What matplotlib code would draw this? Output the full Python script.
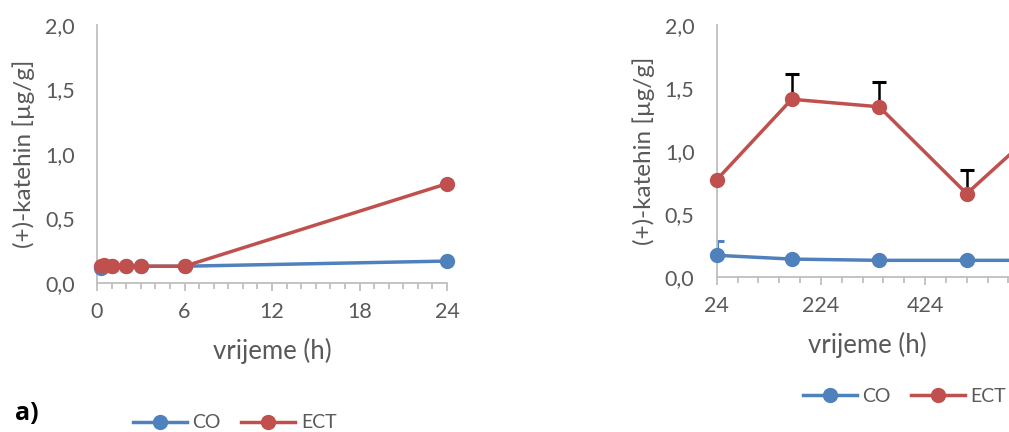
import matplotlib
matplotlib.use("Agg")
import matplotlib.pyplot as plt
import numpy as np
from matplotlib.ticker import FixedLocator, FuncFormatter, MultipleLocator

# data
left_time = [0.25, 0.5, 1, 2, 3, 6, 24]
left_co = [0.12, 0.13, 0.13, 0.13, 0.13, 0.13, 0.17]
left_ect = [0.13, 0.14, 0.13, 0.13, 0.13, 0.13, 0.77]

right_time = [24, 168, 336, 504, 672]
right_co = [0.17, 0.14, 0.13, 0.13, 0.13]
right_ect = [0.77, 1.41, 1.35, 0.66, 1.29]
right_co_err = [0.11, 0.02, 0.02, 0.02, 0.02]
right_ect_err = [0.0, 0.20, 0.20, 0.19, 0.20]

series_names = ["CO", "ECT"]
y_label = "(+)-katehin [µg/g]"
x_label = "vrijeme (h)"

BLUE = "#4F81BD"
RED = "#C0504D"
GREY = "#BFBFBF"
TEXT = "#595959"

plt.rcParams["font.family"] = ["Lato", "DejaVu Sans"]

W, H = 1009, 432
fig = plt.figure(figsize=(W / 100, H / 100), dpi=100)


def px_axes(x0, x1, y_top, y_bottom):
    return fig.add_axes([x0 / W, 1 - y_bottom / H, (x1 - x0) / W, (y_bottom - y_top) / H])


def style(ax):
    for s in ("top", "right"):
        ax.spines[s].set_visible(False)
    for s in ("left", "bottom"):
        ax.spines[s].set_color(GREY)
        ax.spines[s].set_linewidth(1.3)
    ax.set_ylim(0, 2.0)
    ax.yaxis.set_major_locator(MultipleLocator(0.5))
    ax.yaxis.set_major_formatter(FuncFormatter(lambda v, p: f"{v:.1f}".replace(".", ",")))
    ax.tick_params(axis="y", length=0, pad=16, labelsize=15.5, labelcolor=TEXT)
    ax.tick_params(axis="x", which="major", length=6, width=1.3, color=GREY,
                   pad=8, labelsize=15.5, labelcolor=TEXT)
    ax.tick_params(axis="x", which="minor", length=4, width=1.3, color=GREY)
    ax.set_ylabel(y_label, fontsize=17.5, color=TEXT, labelpad=7)
    ax.set_xlabel(x_label, fontsize=18.5, color=TEXT, labelpad=11)
    ax.patch.set_alpha(0)


# left panel
ax1 = px_axes(97, 447, 25, 283)
style(ax1)
ax1.set_xlim(0, 24)
ax1.xaxis.set_major_locator(MultipleLocator(6))
ax1.xaxis.set_minor_locator(MultipleLocator(1))
h_co, = ax1.plot(left_time, left_co, "-o", color=BLUE, lw=2.5, ms=10, clip_on=False, zorder=3)
h_ect, = ax1.plot(left_time, left_ect, "-o", color=RED, lw=2.5, ms=10, clip_on=False, zorder=4)

# right panel (cut off at the right edge, as in the source)
x_max = 604
ax2 = px_axes(716.7, 716.7 + (x_max - 24) * 0.5208, 25, 276.7)
style(ax2)
ax2.set_xlim(24, x_max)
ax2.xaxis.set_major_locator(FixedLocator(np.arange(24, x_max + 1, 200)))
ax2.xaxis.set_minor_locator(FixedLocator(np.arange(24, x_max + 1, 40)))
co_err = np.array(right_co_err)
ect_err = np.array(right_ect_err)
ax2.errorbar(right_time, right_co, yerr=[0 * co_err, co_err], fmt="none", ecolor=BLUE,
             elinewidth=2.2, capsize=5, capthick=2.2, zorder=2)
ax2.errorbar(right_time, right_ect, yerr=[0 * ect_err, ect_err], fmt="none", ecolor="black",
             elinewidth=1.8, capsize=5, capthick=2.2, zorder=2)
ax2.plot(right_time, right_co, "-o", color=BLUE, lw=2.5, ms=10, clip_on=False, zorder=3)
ax2.plot(right_time, right_ect, "-o", color=RED, lw=2.5, ms=10, clip_on=False, zorder=4)

leg_kw = dict(loc="center left", ncol=2, frameon=False, fontsize=14, handlelength=2.78,
              handletextpad=0.28, columnspacing=1.05, labelcolor=TEXT,
              borderpad=0, borderaxespad=0)
fig.legend([h_co, h_ect], series_names, bbox_to_anchor=(133 / W, 1 - 423 / H), **leg_kw)
fig.legend([h_co, h_ect], series_names, bbox_to_anchor=(802.7 / W, 1 - 396 / H), **leg_kw)

fig.text(27 / W, 1 - 413 / H, "a)", fontsize=18, fontweight="bold", family="Open Sans",
         ha="center", va="center")

fig.savefig("out.png", dpi=100)
